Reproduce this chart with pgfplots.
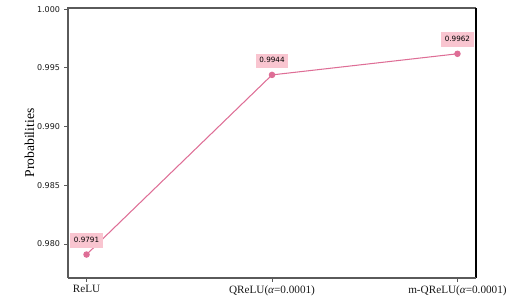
\documentclass[border=0pt]{standalone}
\usepackage{fontspec}
\setmainfont{Liberation Serif}
\newfontfamily\dejavu{DejaVu Sans}
\usepackage{pgfplots}
\pgfplotsset{compat=1.18}
\definecolor{linepink}{HTML}{DE6E96}
\definecolor{boxpink}{HTML}{F9C5D0}
\definecolor{spinegray}{HTML}{5A5A5A}
\begin{document}
\begin{tikzpicture}
\path[use as bounding box] (-68pt,-24pt) rectangle (464pt,278pt);
\begin{axis}[
  at={(0,0)}, anchor=south west,
  scale only axis, width=408pt, height=270pt,
  xmin=-0.1, xmax=2.1, ymin=0.9771, ymax=1.0001,
  xtick={0,1,2},
  xticklabels={ReLU, QReLU({\itshape α}=0.0001), m-QReLU({\itshape α}=0.0001)},
  ytick={0.980,0.985,0.990,0.995,1.000},
  yticklabel style={/pgf/number format/fixed, /pgf/number format/fixed zerofill, /pgf/number format/precision=3,
    /pgf/number format/assume math mode=true,
    font=\dejavu\fontsize{8}{9}\selectfont, text=black!90, xshift=-1pt},
  xticklabel style={font=\fontsize{11.2}{13}\selectfont, text=black!90, yshift=-0.5pt},
  tick align=outside, major tick length=3.5pt,
  tick style={spinegray, line width=0.8pt},
  xtick pos=bottom, ytick pos=left,
  axis line style={draw=none},
  ylabel={Probabilities},
  ylabel style={font=\fontsize{13.6}{15}\selectfont, yshift=-4pt},
  clip=false,
]
\draw[spinegray, line width=1.3pt] (rel axis cs:0,0) -- (rel axis cs:0,1) -- (rel axis cs:1,1);
\draw[black, line width=1.3pt] (rel axis cs:1,1) -- (rel axis cs:1,0);
\draw[spinegray, line width=1.3pt] (rel axis cs:1,0) -- (rel axis cs:0,0);
\addplot[linepink, line width=1.05pt, mark=*, mark size=2.7pt,
  mark options={fill=linepink, draw=linepink},
  nodes near coords,
  point meta=explicit symbolic,
  every node near coord/.append style={
    anchor=center, yshift=14pt, fill=boxpink, text=black,
    font=\dejavu\fontsize{7.2}{8}\selectfont,
    inner xsep=3.5pt, inner ysep=4pt, text height=5.2pt, text depth=1.5pt}
] coordinates {(0,0.9791)[0.9791] (1,0.9944)[0.9944] (2,0.9962)[0.9962]};
\end{axis}
\end{tikzpicture}
\end{document}
